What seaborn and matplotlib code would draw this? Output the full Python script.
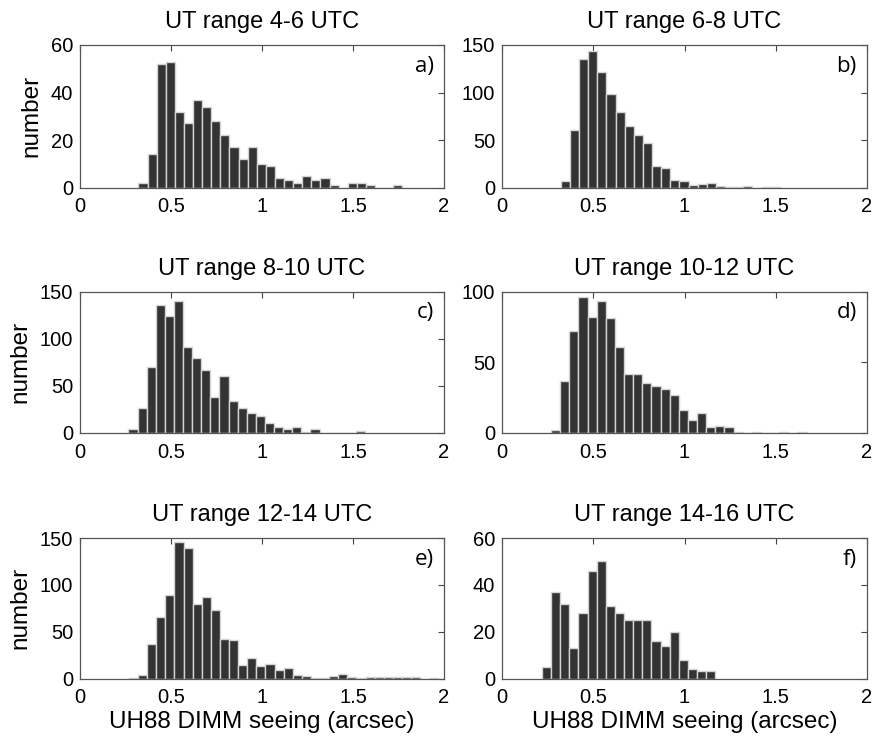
import numpy as np
import pandas as pd
import matplotlib
matplotlib.use("Agg")
import matplotlib.pyplot as plt
import seaborn as sns

# ---- data (counts per 0.05 arcsec bin) ----
titles = ["UT range 4-6 UTC", "UT range 6-8 UTC", "UT range 8-10 UTC",
          "UT range 10-12 UTC", "UT range 12-14 UTC", "UT range 14-16 UTC"]
panel_letters = ["a)", "b)", "c)", "d)", "e)", "f)"]
bin_width = 0.05
first_center = [0.346, 0.347, 0.291, 0.294, 0.294, 0.244]

counts_a = [2, 14, 52, 53, 32, 27, 37, 34, 28, 22, 17, 12, 17, 10, 9, 4, 3, 2,
            5, 3, 4, 1, 0, 2, 2, 1, 0, 0, 1]
counts_b = [7, 61, 135, 144, 122, 98, 79, 65, 55, 47, 23, 21, 8, 7, 3, 4, 5, 2,
            1, 1, 2, 0, 1, 1]
counts_c = [4, 27, 70, 136, 124, 140, 91, 80, 67, 38, 60, 34, 27, 21, 18, 11, 6,
            4, 6, 1, 4, 0, 0, 0, 0, 2]
counts_d = [2, 37, 72, 96, 82, 93, 81, 61, 42, 42, 35, 33, 31, 27, 16, 9, 14, 4,
            5, 4, 1, 0, 1, 0, 0, 1, 0, 1]
counts_e = [1, 4, 37, 66, 89, 146, 139, 80, 87, 73, 42, 41, 14, 22, 13, 16, 9,
            11, 4, 3, 1, 1, 3, 5, 2, 1, 2, 2, 2, 2, 2, 2, 0, 1]
counts_f = [5, 37, 32, 13, 28, 46, 50, 31, 28, 25, 25, 25, 16, 14, 20, 8, 4, 3, 3]
all_counts = [counts_a, counts_b, counts_c, counts_d, counts_e, counts_f]

y_limits = [60, 150, 150, 100, 150, 60]
y_ticks = [[0, 20, 40, 60], [0, 50, 100, 150], [0, 50, 100, 150],
           [0, 50, 100], [0, 50, 100, 150], [0, 20, 40, 60]]
x_ticks = [0, 0.5, 1, 1.5, 2]
x_tick_labels = ["0", "0.5", "1", "1.5", "2"]
xlabel_text = "UH88 DIMM seeing (arcsec)"
ylabel_text = "number"

# ---- style ----
sns.set_style("white")
plt.rcParams["font.family"] = ["Liberation Sans", "DejaVu Sans"]
plt.rcParams["text.color"] = "black"
plt.rcParams["axes.labelcolor"] = "black"
plt.rcParams["xtick.color"] = "black"
plt.rcParams["ytick.color"] = "black"

W, H = 873, 740
fig = plt.figure(figsize=(W / 100, H / 100), dpi=100)

col_x = [80 / W, 502 / W]
col_w = [364 / W, 365 / W]
row_top = [45, 291.5, 538]
row_bot = [187.5, 433, 678.5]

for i in range(6):
    r, c = divmod(i, 2)
    ax = fig.add_axes([col_x[c], 1 - row_bot[r] / H, col_w[c],
                       (row_bot[r] - row_top[r]) / H])
    counts = np.array(all_counts[i], dtype=float)
    centers = first_center[i] + bin_width * np.arange(len(counts))
    lo = float(centers[0] - bin_width / 2)
    hi = float(centers[-1] + bin_width / 2)
    df = pd.DataFrame({"seeing": centers, "n": counts})
    sns.histplot(data=df, x="seeing", weights="n", bins=len(counts),
                 binrange=(lo, hi), ax=ax,
                 color="#333333", alpha=1, edgecolor="#d4d4d4", linewidth=1.0)
    ax.set_xlim(0, 2)
    ax.set_ylim(0, y_limits[i])
    ax.set_xticks(x_ticks)
    ax.set_xticklabels(x_tick_labels)
    ax.set_yticks(y_ticks[i])
    ax.tick_params(direction="in", top=True, right=True, length=4, width=0.8,
                   color="#444444", labelsize=14.5, labelcolor="black")
    ax.tick_params(axis="x", pad=7)
    ax.tick_params(axis="y", pad=5)
    for s in ax.spines.values():
        s.set_color("#555555")
        s.set_linewidth(0.9)
    ax.set_title(titles[i], fontsize=17, pad=12, color="black")
    if c == 0:
        ax.set_ylabel(ylabel_text, fontsize=17.5, labelpad=6)
    else:
        ax.set_ylabel("")
    if r == 2:
        ax.set_xlabel(xlabel_text, fontsize=17.5, labelpad=3)
    else:
        ax.set_xlabel("")
    ax.text(0.972, 0.85, panel_letters[i], transform=ax.transAxes,
            ha="right", va="center", fontsize=16, color="black",
            family=["Open Sans", "DejaVu Sans"])

fig.savefig("out.png", dpi=100)
